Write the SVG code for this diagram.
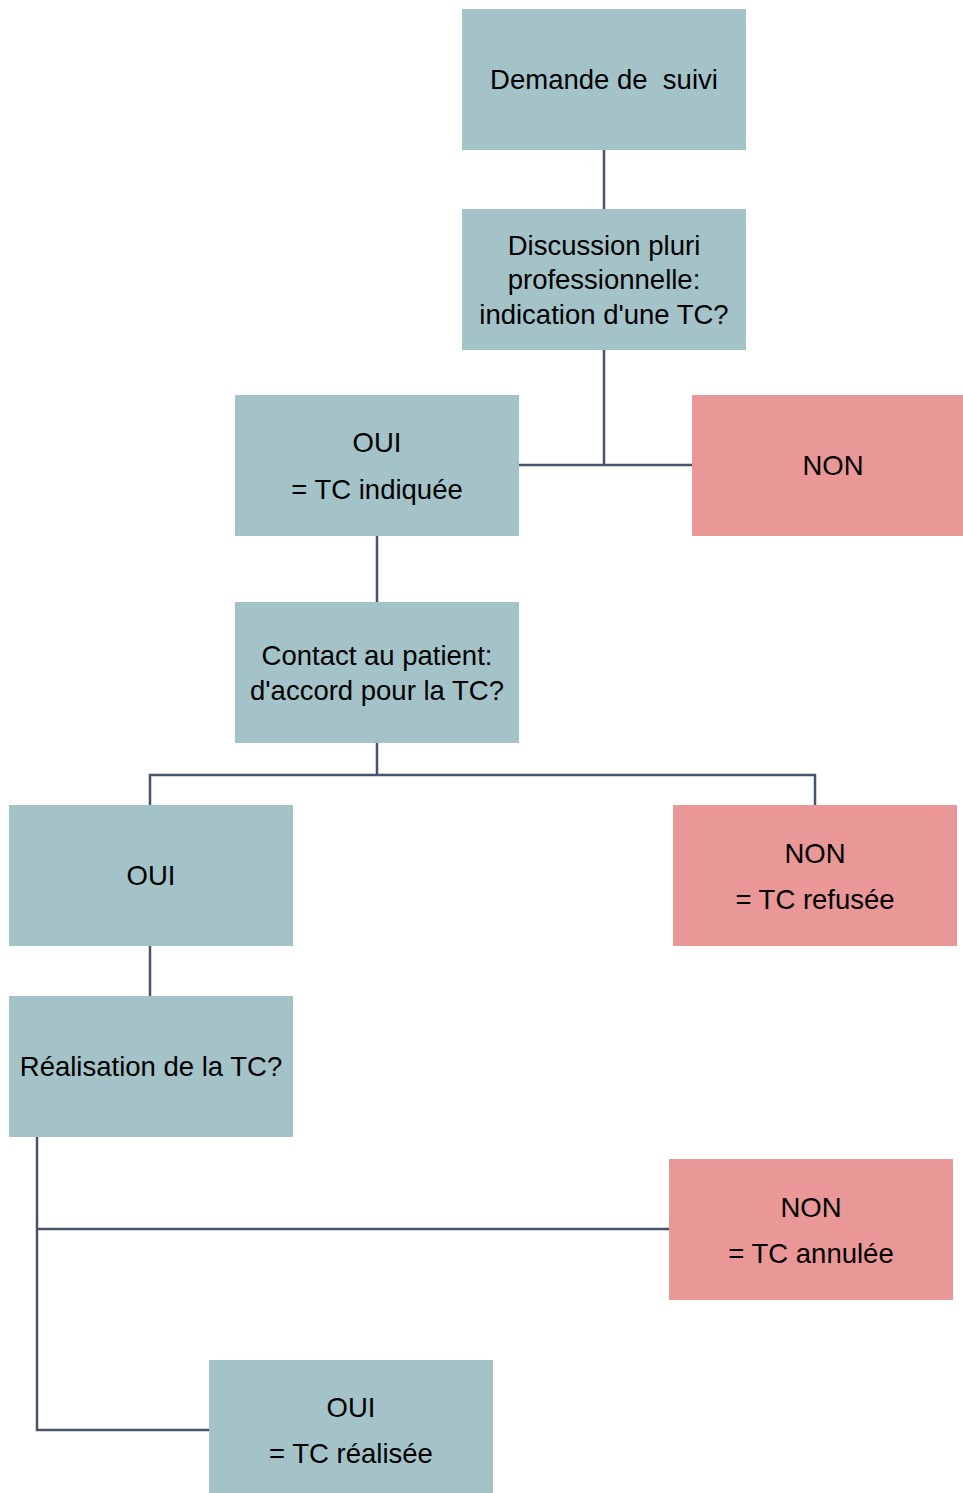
<svg xmlns="http://www.w3.org/2000/svg" width="963" height="1493" viewBox="0 0 963 1493">
<style>
.t{fill:#A3C3C8}
.n{fill:#E99797}
text{font-family:"Liberation Sans",Arial,sans-serif;font-size:27.5px;fill:#000;text-anchor:middle}
.c{stroke:#44546A;stroke-width:2.5;fill:none}
</style>
<rect width="963" height="1493" fill="#fff"/>
<g id="connectors">
<path class="c" d="M604,150V209"/>
<path class="c" d="M604,350V465M519,465H692"/>
<path class="c" d="M377,536V602"/>
<path class="c" d="M377,743V775M150,805V775H815V805"/>
<path class="c" d="M150,946V996"/>
<path class="c" d="M37,1137V1430H209M37,1229H669"/>
</g>
<g id="n1"><rect class="t" x="462" y="9" width="284" height="141"/><text x="604" y="89" xml:space="preserve">Demande de  suivi</text></g>
<g id="n2"><rect class="t" x="462" y="209" width="284" height="141"/><text x="604" y="255">Discussion pluri</text><text x="604" y="289">professionnelle:</text><text x="604" y="324">indication d'une TC?</text></g>
<g id="n3"><rect class="t" x="235" y="395" width="284" height="141"/><text x="377" y="452">OUI</text><text x="377" y="499">= TC indiquée</text></g>
<g id="n4"><rect class="n" x="692" y="395" width="271" height="141"/><text x="833" y="475">NON</text></g>
<g id="n5"><rect class="t" x="235" y="602" width="284" height="141"/><text x="377" y="665">Contact au patient:</text><text x="377" y="700">d'accord pour la TC?</text></g>
<g id="n6"><rect class="t" x="9" y="805" width="284" height="141"/><text x="151" y="885">OUI</text></g>
<g id="n7"><rect class="n" x="673" y="805" width="284" height="141"/><text x="815" y="863">NON</text><text x="815" y="909">= TC refusée</text></g>
<g id="n8"><rect class="t" x="9" y="996" width="284" height="141"/><text x="151" y="1076">Réalisation de la TC?</text></g>
<g id="n9"><rect class="n" x="669" y="1159" width="284" height="141"/><text x="811" y="1217">NON</text><text x="811" y="1263">= TC annulée</text></g>
<g id="n10"><rect class="t" x="209" y="1360" width="284" height="133"/><text x="351" y="1417">OUI</text><text x="351" y="1463">= TC réalisée</text></g>
</svg>
